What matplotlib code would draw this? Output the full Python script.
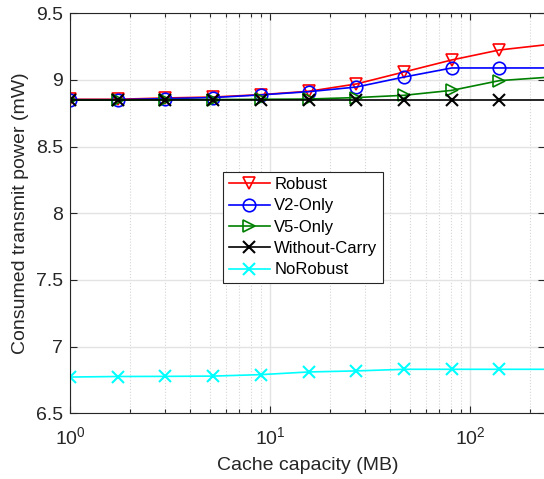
import matplotlib
matplotlib.use("Agg")
import matplotlib.pyplot as plt
from matplotlib.ticker import LogLocator, FixedLocator

plt.rcParams['font.family'] = ['Liberation Sans', 'DejaVu Sans']
plt.rcParams['mathtext.default'] = 'regular'

cache = [1, 1.73, 3, 5.2, 9, 15.6, 27, 46.8, 81, 140.3, 243]
robust = [8.855, 8.855, 8.865, 8.872, 8.89, 8.915, 8.97, 9.06, 9.15, 9.225, 9.265]
v2_only = [8.852, 8.852, 8.86, 8.868, 8.888, 8.912, 8.947, 9.022, 9.09, 9.09, 9.09]
v5_only = [8.85, 8.85, 8.852, 8.853, 8.855, 8.857, 8.868, 8.885, 8.922, 8.995, 9.02]
without_carry = [8.852] * 11
norobust = [6.772, 6.776, 6.777, 6.779, 6.79, 6.81, 6.818, 6.83, 6.83, 6.83, 6.83]

series = [
    ("Robust", robust, "red", "v"),
    ("V2-Only", v2_only, "blue", "o"),
    ("V5-Only", v5_only, "green", ">"),
    ("Without-Carry", without_carry, "black", "x"),
    ("NoRobust", norobust, "cyan", "x"),
]

XMAX = 237
fig = plt.figure(figsize=(5.44, 4.79), dpi=100)
W, H = 544, 479
ax = fig.add_axes([70 / W, (H - 413.3) / H, 475 / W, 400 / H])

visible = [i for i, c in enumerate(cache) if c <= XMAX]
for name, vals, col, mk in series:
    kw = dict(color=col, marker=mk, markersize=9, linewidth=1.2,
              markevery=visible, label=name)
    if mk == "x":
        ax.plot(cache, vals, markeredgewidth=1.5, **kw)
    else:
        ax.plot(cache, vals, markerfacecolor='none', markeredgewidth=1.2, **kw)

ax.set_xscale('log')
ax.set_xlim(1, XMAX)
ax.set_ylim(6.5, 9.5)
ax.yaxis.set_major_locator(FixedLocator([6.5, 7, 7.5, 8, 8.5, 9, 9.5]))
ax.set_yticklabels(["6.5", "7", "7.5", "8", "8.5", "9", "9.5"])
ax.xaxis.set_major_locator(LogLocator(base=10, numticks=10))
ax.xaxis.set_minor_locator(LogLocator(base=10, subs=range(2, 10), numticks=20))

ax.grid(True, which='major', axis='both', color='#e3e3e3', linestyle='-', linewidth=1.0)
ax.grid(True, which='minor', axis='x', color='#d5d5d5', linestyle=':', linewidth=0.8)
ax.set_axisbelow(True)

ax.tick_params(which='both', direction='in', top=True, right=True, labelsize=14,
               colors='#262626', width=0.8)
ax.tick_params(axis='y', pad=5)
ax.tick_params(axis='x', pad=9)
ax.tick_params(which='major', length=5)
ax.tick_params(which='minor', length=3)
for sp in ax.spines.values():
    sp.set_color('#262626')
    sp.set_linewidth(0.8)

ax.set_xlabel("Cache capacity (MB)", fontsize=14, color='#262626', labelpad=7)
ax.set_ylabel("Consumed transmit power (mW)", fontsize=14, color='#262626', labelpad=5)

leg = ax.legend(loc='lower left', bbox_to_anchor=((223 - 70) / 475, (413.3 - 283) / 400),
                fontsize=12, frameon=True, fancybox=False, edgecolor='#262626',
                framealpha=1, handlelength=2.5, handletextpad=0.25, labelspacing=0.38,
                borderpad=0.33, borderaxespad=0)
leg.get_frame().set_linewidth(0.8)

fig.savefig("out.png", dpi=100)
